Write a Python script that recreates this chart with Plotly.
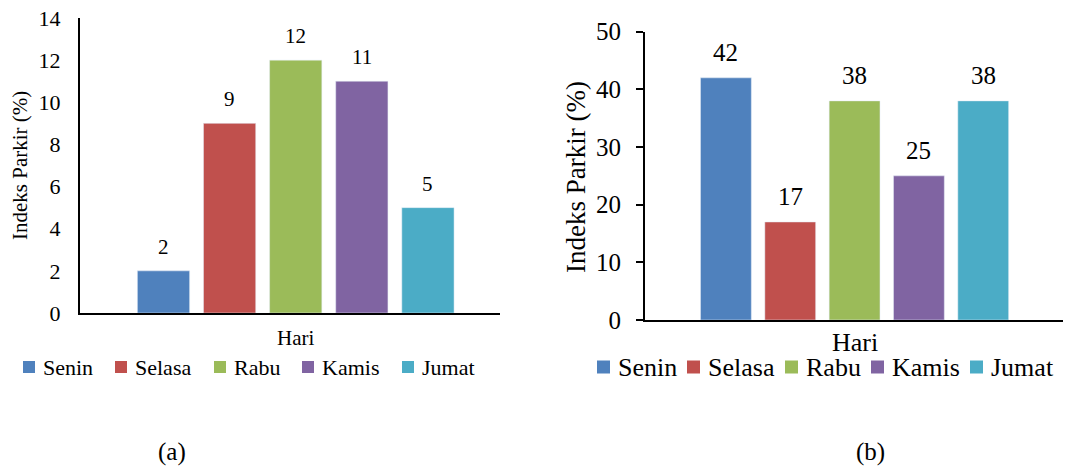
import plotly.graph_objects as go

# Days of the week and the parking index per day for the two surveys
days = ["Senin", "Selasa", "Rabu", "Kamis", "Jumat"]
index_a = [2, 9, 12, 11, 5]
index_b = [42, 17, 38, 25, 38]
colors = ["#4F81BD", "#C0504D", "#9BBB59", "#8064A2", "#4BACC6"]

W, H = 1070, 468
FONT = "Liberation Serif"


def px_x(p):
    return p / W


def px_y(p):
    return 1 - p / H


fig = go.Figure()

for day, va, vb, col in zip(days, index_a, index_b, colors):
    fig.add_trace(go.Bar(x=[day], y=[va], name=day, marker_color=col,
                         width=0.79, xaxis="x", yaxis="y",
                         showlegend=False, hoverinfo="skip"))
    fig.add_trace(go.Bar(x=[day], y=[vb], name=day, marker_color=col,
                         width=0.79, xaxis="x2", yaxis="y2",
                         showlegend=False, hoverinfo="skip"))

annotations = []
shapes = []

# value labels above each bar
for day, va, vb in zip(days, index_a, index_b):
    annotations.append(dict(x=day, y=va, xref="x", yref="y", text=str(va),
                            showarrow=False, yanchor="middle", yshift=24,
                            font=dict(family=FONT, size=21, color="black")))
    annotations.append(dict(x=day, y=vb, xref="x2", yref="y2", text=str(vb),
                            showarrow=False, yanchor="middle", yshift=25,
                            font=dict(family=FONT, size=25, color="black")))

# key rows under each panel: colour swatch followed by the day name
key_a_left = [23, 115, 214, 302, 402]
key_b_left = [597, 687, 785, 871, 970]
KEY_Y = 367
for keys, box, gap, fsize in ((key_a_left, 12, 6, 22), (key_b_left, 13, 6, 26)):
    for left, day, col in zip(keys, days, colors):
        shapes.append(dict(type="rect", xref="paper", yref="paper",
                           x0=px_x(left), x1=px_x(left + box),
                           y0=px_y(KEY_Y + box / 2), y1=px_y(KEY_Y - box / 2),
                           fillcolor=col, line=dict(width=0)))
        annotations.append(dict(x=px_x(left + box + gap), y=px_y(KEY_Y),
                                xref="paper", yref="paper", text=day,
                                showarrow=False, xanchor="left",
                                yanchor="middle",
                                font=dict(family=FONT, size=fsize,
                                          color="black")))

# axis titles and panel captions
annotations += [
    dict(x=px_x(20), y=px_y(166), xref="paper", yref="paper",
         text="Indeks Parkir (%)", textangle=-90, showarrow=False,
         xanchor="center", yanchor="middle",
         font=dict(family=FONT, size=21, color="black")),
    dict(x=px_x(576), y=px_y(177), xref="paper", yref="paper",
         text="Indeks Parkir (%)", textangle=-90, showarrow=False,
         xanchor="center", yanchor="middle",
         font=dict(family=FONT, size=27, color="black")),
    dict(x=px_x(295), y=px_y(338), xref="paper", yref="paper", text="Hari",
         showarrow=False, xanchor="center", yanchor="middle",
         font=dict(family=FONT, size=21, color="black")),
    dict(x=px_x(855), y=px_y(342), xref="paper", yref="paper", text="Hari",
         showarrow=False, xanchor="center", yanchor="middle",
         font=dict(family=FONT, size=26, color="black")),
    dict(x=px_x(172), y=px_y(452), xref="paper", yref="paper", text="(a)",
         showarrow=False, xanchor="center", yanchor="middle",
         font=dict(family=FONT, size=25, color="black")),
    dict(x=px_x(870), y=px_y(452), xref="paper", yref="paper", text="(b)",
         showarrow=False, xanchor="center", yanchor="middle",
         font=dict(family=FONT, size=25, color="black")),
]

fig.update_layout(
    width=W, height=H,
    margin=dict(l=0, r=0, t=0, b=0),
    paper_bgcolor="white", plot_bgcolor="white",
    barmode="overlay",
    showlegend=False,
    font=dict(family=FONT, color="black"),
    annotations=annotations,
    shapes=shapes,
    xaxis=dict(domain=[px_x(80), px_x(500)], range=[-1.263, 5.09],
               showticklabels=False, ticks="", showgrid=False,
               showline=True, linecolor="black", linewidth=2,
               anchor="y", automargin=False),
    yaxis=dict(domain=[px_y(313), px_y(18)], range=[0, 14], dtick=2,
               showgrid=False, zeroline=False, showline=True,
               linecolor="black", linewidth=2, ticks="",
               ticklabelstandoff=13,
               tickfont=dict(family=FONT, size=22, color="black"),
               anchor="x", automargin=False),
    xaxis2=dict(domain=[px_x(645), px_x(1063)], range=[-1.258, 5.24],
                showticklabels=False, ticks="", showgrid=False,
                showline=True, linecolor="black", linewidth=2,
                anchor="y2", automargin=False),
    yaxis2=dict(domain=[px_y(320), px_y(31.7)], range=[0, 50], dtick=10,
                showgrid=False, zeroline=False, showline=True,
                linecolor="black", linewidth=2, ticks="outside",
                ticklen=7, tickwidth=2, tickcolor="black",
                ticklabelstandoff=10,
                tickfont=dict(family=FONT, size=25, color="black"),
                anchor="x2", automargin=False),
)

fig.write_html("out.html")
